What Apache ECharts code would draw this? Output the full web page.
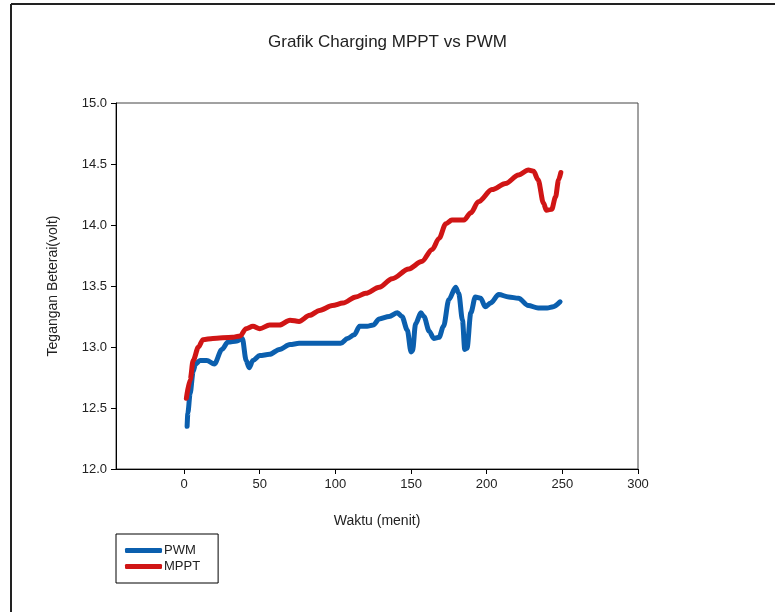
<!DOCTYPE html>
<html>
<head>
<meta charset="utf-8">
<script src="https://cdn.jsdelivr.net/npm/echarts@6/dist/echarts.min.js"></script>
<style>
  html, body { margin: 0; padding: 0; background: #fff; }
  #chart { width: 775px; height: 612px; }
</style>
</head>
<body>
<div id="chart"></div>
<script>
// data
var timePwm = [2, 2.5, 4, 6, 7.5, 10.5, 15, 20, 25, 29, 35, 38.5, 41, 43, 45.5, 50, 56.5, 63, 70, 76,
  98, 103.5, 108, 112.5, 116, 121, 125, 129, 135.5, 141, 144, 147.5, 150, 151, 153, 156.5, 158.5,
  162, 165, 168.5, 171.5, 175, 179.5, 181.5, 184, 185.5, 187, 189.5, 192.5, 196, 199, 202.5, 208,
  214.5, 221, 227.5, 234, 240, 244, 248.5];
var voltPwm = [12.35, 12.46, 12.62, 12.80, 12.86, 12.89, 12.89, 12.86, 12.98, 13.04, 13.05, 13.07, 12.89, 12.83, 12.89, 12.93, 12.94, 12.98, 13.02, 13.03,
  13.03, 13.03, 13.07, 13.10, 13.17, 13.17, 13.18, 13.23, 13.25, 13.28, 13.25, 13.14, 12.96, 12.97, 13.19, 13.28, 13.25,
  13.13, 13.07, 13.08, 13.17, 13.39, 13.49, 13.44, 13.22, 12.98, 12.99, 13.28, 13.41, 13.40, 13.33, 13.36, 13.43,
  13.41, 13.40, 13.34, 13.32, 13.32, 13.33, 13.37];

var timeMppt = [1.5, 4, 6, 9.5, 12.5, 19, 32, 37, 41, 45.5, 50, 56.5, 63, 70, 76, 83, 89.5, 98, 105,
  113.5, 120, 129, 137.5, 148.5, 157, 164, 168.5, 173, 177, 185, 189.5, 194.5, 203.5, 212.5, 221,
  227.5, 231, 234, 237.5, 239.5, 243, 245.5, 247.5, 249];
var voltMppt = [12.58, 12.73, 12.89, 13.00, 13.06, 13.07, 13.08, 13.09, 13.15, 13.17, 13.15, 13.18, 13.18, 13.22, 13.21, 13.26, 13.30, 13.34, 13.36,
  13.41, 13.44, 13.49, 13.56, 13.64, 13.70, 13.80, 13.89, 14.01, 14.04, 14.04, 14.10, 14.19, 14.29, 14.34, 14.41,
  14.45, 14.44, 14.37, 14.18, 14.12, 14.13, 14.23, 14.37, 14.43];

var xTicks = [0, 50, 100, 150, 200, 250, 300];

function pairs(xs, ys) {
  var out = [];
  for (var i = 0; i < xs.length; i++) out.push([xs[i], ys[i]]);
  return out;
}

var chart = echarts.init(document.getElementById('chart'));
var font = 'Liberation Sans, Arial, sans-serif';

chart.setOption({
  backgroundColor: '#fff',
  animation: false,
  title: {
    text: 'Grafik Charging MPPT vs PWM',
    left: 'center',
    top: 29,
    textStyle: { fontFamily: font, fontSize: 17, fontWeight: 'normal', color: '#222' }
  },
  legend: {
    orient: 'vertical',
    left: 116,
    top: 534,
    data: ['PWM', 'MPPT'],
    icon: 'roundRect',
    itemWidth: 37,
    itemHeight: 5,
    itemGap: 3,
    padding: [10, 18, 10, 9],
    borderColor: '#000',
    borderWidth: 1,
    borderRadius: 0,
    textStyle: { fontFamily: font, fontSize: 13, color: '#222', padding: [0, 0, 0, -3] }
  },
  grid: {
    left: 116, right: 137, top: 103, bottom: 143,
    show: true, borderColor: '#444', borderWidth: 1
  },
  xAxis: {
    type: 'value',
    min: -45,
    max: 300,
    name: 'Waktu (menit)',
    nameLocation: 'middle',
    nameGap: 45,
    nameTextStyle: { fontFamily: font, fontSize: 14, color: '#222' },
    axisLine: { onZero: false, lineStyle: { color: '#000', width: 1 } },
    axisTick: { show: true, customValues: xTicks, length: 5, lineStyle: { color: '#000' } },
    axisLabel: { customValues: xTicks, fontFamily: font, fontSize: 13, color: '#222', margin: 9 },
    splitLine: { show: false }
  },
  yAxis: {
    type: 'value',
    min: 12,
    max: 15,
    interval: 0.5,
    name: 'Tegangan Beterai(volt)',
    nameLocation: 'middle',
    nameGap: 56,
    nameTextStyle: { fontFamily: font, fontSize: 14, color: '#222' },
    axisLine: { show: true, onZero: false, lineStyle: { color: '#000', width: 1 } },
    axisTick: { show: true, length: 5, lineStyle: { color: '#000' } },
    axisLabel: {
      fontFamily: font, fontSize: 13, color: '#222', margin: 9,
      formatter: function (v) { return v.toFixed(1); }
    },
    splitLine: { show: false }
  },
  graphic: [
    { type: 'line', shape: { x1: 11, y1: 4, x2: 775, y2: 4 }, style: { stroke: '#222', lineWidth: 2 } },
    { type: 'line', shape: { x1: 11, y1: 4, x2: 11, y2: 612 }, style: { stroke: '#222', lineWidth: 2 } }
  ],
  series: [
    {
      name: 'PWM',
      type: 'line',
      data: pairs(timePwm, voltPwm),
      showSymbol: false,
      smooth: 0.3,
      smoothMonotone: 'x',
      color: '#0b5fae',
      lineStyle: { width: 5, color: '#0b5fae', cap: 'round', join: 'round' }
    },
    {
      name: 'MPPT',
      type: 'line',
      data: pairs(timeMppt, voltMppt),
      showSymbol: false,
      smooth: 0.3,
      smoothMonotone: 'x',
      color: '#d01515',
      lineStyle: { width: 5, color: '#d01515', cap: 'round', join: 'round' }
    }
  ]
});
</script>
</body>
</html>
